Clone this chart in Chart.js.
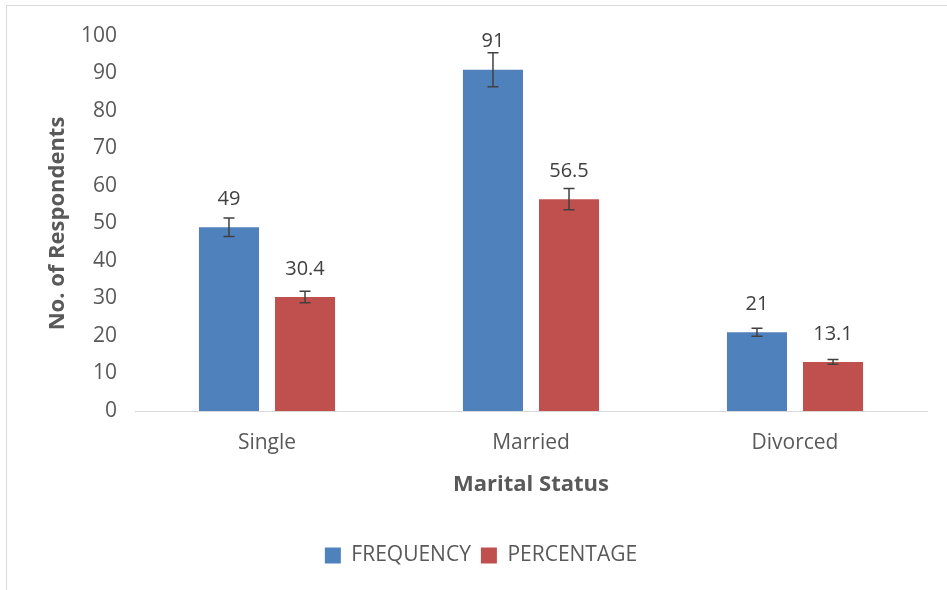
<!DOCTYPE html>
<html>
<head>
<meta charset="utf-8">
<title>Marital Status</title>
<script src="https://cdn.jsdelivr.net/npm/chart.js@4.4.0/dist/chart.umd.min.js"></script>
<style>
  html, body { margin: 0; padding: 0; background: #fff; }
  #wrap { position: relative; width: 947px; height: 590px; overflow: hidden; }
  #frame { position: absolute; left: 6px; top: 5px; width: 1200px; height: 1200px;
           border-left: 1px solid #d9d9d9; border-top: 1px solid #d9d9d9; }
  #chart { position: absolute; left: 0; top: 0; }
</style>
</head>
<body>
<div id="wrap">
  <div id="frame"></div>
  <canvas id="chart" width="947" height="590"></canvas>
</div>
<script>
// --- DATA ---
const categories = ['Single', 'Married', 'Divorced'];
const frequency = [49, 91, 21];
const percentage = [30.4, 56.5, 13.1];
const frequencyError = [2.45, 4.55, 1.05];
const percentageError = [1.52, 2.83, 0.66];
const yTicks = [0, 10, 20, 30, 40, 50, 60, 70, 80, 90, 100];

const BLUE = '#4f81bd';
const RED = '#c0504d';
const TEXT = '#595959';

Chart.defaults.font.family = "'Open Sans', 'DejaVu Sans', sans-serif";
Chart.defaults.color = TEXT;

// error bars (whiskers with caps) drawn through the y scale
const errorBars = {
    id: 'errorBars',
    afterDatasetsDraw(chart) {
        const ctx = chart.ctx;
        const y = chart.scales.y;
        ctx.save();
        ctx.strokeStyle = '#404040';
        ctx.lineWidth = 1.5;
        chart.data.datasets.forEach((ds, i) => {
            chart.getDatasetMeta(i).data.forEach((bar, j) => {
                const v = ds.data[j];
                const e = ds.errors[j];
                const top = y.getPixelForValue(v + e);
                const bot = y.getPixelForValue(v - e);
                ctx.beginPath();
                ctx.moveTo(bar.x, top); ctx.lineTo(bar.x, bot);
                ctx.moveTo(bar.x - 5.5, top); ctx.lineTo(bar.x + 5.5, top);
                ctx.moveTo(bar.x - 5.5, bot); ctx.lineTo(bar.x + 5.5, bot);
                ctx.stroke();
            });
        });
        ctx.restore();
    }
};

// value labels above each bar
const valueLabels = {
    id: 'valueLabels',
    afterDatasetsDraw(chart) {
        const ctx = chart.ctx;
        ctx.save();
        ctx.fillStyle = '#404040';
        ctx.font = "20px 'Open Sans', sans-serif";
        ctx.textAlign = 'center';
        ctx.textBaseline = 'middle';
        chart.data.datasets.forEach((ds, i) => {
            chart.getDatasetMeta(i).data.forEach((bar, j) => {
                ctx.fillText(String(ds.data[j]), bar.x, bar.y - 28);
            });
        });
        ctx.restore();
    }
};

new Chart(document.getElementById('chart'), {
    type: 'bar',
    data: {
        labels: categories,
        datasets: [{
            label: 'FREQUENCY',
            data: frequency,
            errors: frequencyError,
            backgroundColor: BLUE
        }, {
            label: 'PERCENTAGE',
            data: percentage,
            errors: percentageError,
            backgroundColor: RED
        }]
    },
    options: {
        responsive: false,
        animation: false,
        categoryPercentage: 0.576,
        barPercentage: 0.79,
        layout: { padding: { top: 36, right: 20, bottom: 14, left: 35 } },
        plugins: {
            tooltip: { enabled: false },
            legend: {
                position: 'bottom',
                labels: {
                    color: TEXT,
                    font: { size: 21 },
                    boxWidth: 16,
                    boxHeight: 16,
                    padding: 10
                }
            }
        },
        scales: {
            x: {
                grid: { display: false, drawTicks: false },
                border: { color: '#d9d9d9', width: 1 },
                ticks: { font: { size: 21 }, color: TEXT, padding: 19 },
                title: {
                    display: true,
                    text: 'Marital Status',
                    color: TEXT,
                    font: { size: 22, weight: 'bold' },
                    padding: { bottom: 37 }
                },
                afterFit(scale) { scale.height = 124; }
            },
            y: {
                min: 0,
                max: 100,
                afterBuildTicks(scale) { scale.ticks = yTicks.map(v => ({ value: v })); },
                grid: { display: false, drawTicks: false },
                border: { display: false },
                ticks: { font: { size: 21 }, color: TEXT, padding: 18 },
                title: {
                    display: true,
                    text: 'No. of Respondents',
                    color: TEXT,
                    font: { size: 22, weight: 'bold' },
                    padding: { top: 10 }
                },
                afterFit(scale) { scale.width = 100; }
            }
        }
    },
    plugins: [errorBars, valueLabels]
});
</script>
</body>
</html>
